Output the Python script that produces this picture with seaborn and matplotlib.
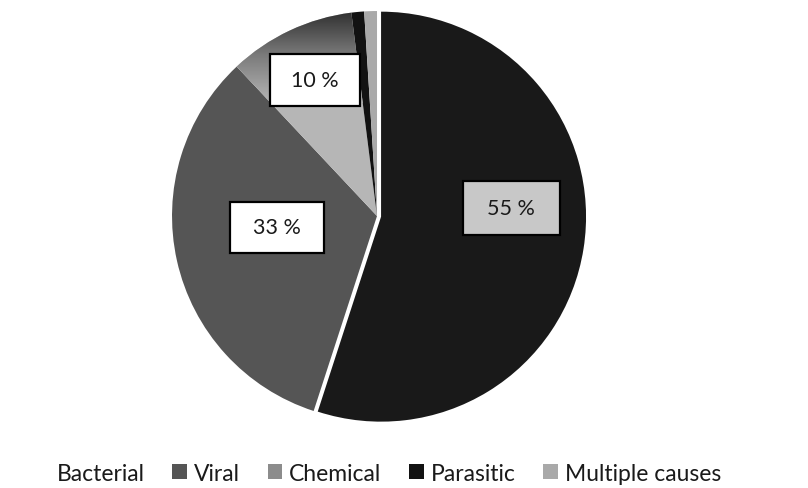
import numpy as np
import matplotlib
matplotlib.use("Agg")
import matplotlib.pyplot as plt
from matplotlib.patches import Rectangle, Patch
from matplotlib.colors import LinearSegmentedColormap
import seaborn as sns

categories = ["Bacterial", "Viral", "Chemical", "Parasitic", "Multiple causes"]
shares = [55, 33, 10, 1, 1]
label_texts = ["55 %", "33 %", "10 %"]

sns.set_theme(style="white")
plt.rcParams['font.family'] = ['Lato', 'DejaVu Sans']

colors = ["#191919", "#555555", "#b6b6b6", "#121212", "#a9a9a9"]

fig = plt.figure(figsize=(8.08, 4.89), dpi=100)
ax = fig.add_axes([0.2129, 0.137, 0.5074, 0.8384])
wedges, _ = ax.pie(shares, colors=colors, startangle=90, counterclock=False,
                   explode=[0.02, 0, 0, 0, 0], wedgeprops=dict(linewidth=0))
ax.set_xlim(-1.0, 1.0)
ax.set_ylim(-1.0, 1.0)
ax.set_aspect('equal')
ax.axis('off')

# vertical gradient on the chemical wedge (dark at rim top, light lower)
grad = np.linspace(0, 1, 256).reshape(-1, 1)
cmap = LinearSegmentedColormap.from_list("chem", ["#b6b6b6", "#7a7a7a", "#262626"])
im = ax.imshow(grad, cmap=cmap, origin='lower', extent=[-1.0, 0.05, 0.55, 1.02],
               aspect='auto', zorder=wedges[2].get_zorder() + 0.1)
im.set_clip_path(wedges[2])
ax.set_xlim(-1.0, 1.0)
ax.set_ylim(-1.0, 1.0)

# label boxes
box_specs = [
    (0.654, 0.039, 0.473, 0.263, "#c8c8c8"),
    (-0.488, -0.054, 0.463, 0.249, "white"),
    (-0.302, 0.663, 0.439, 0.254, "white"),
]
for (cx, cy, w, h, fc), txt in zip(box_specs, label_texts):
    ax.add_patch(Rectangle((cx - w / 2, cy - h / 2), w, h, facecolor=fc,
                           edgecolor="black", linewidth=1.6, zorder=5))
    ax.text(cx, cy, txt, ha='center', va='center', fontsize=15.5,
            color="#1a1a1a", zorder=6)

handles = []
for i, c in enumerate(colors):
    if i == 0:
        handles.append(Patch(facecolor='none', edgecolor='none'))
    elif i == 2:
        handles.append(Patch(facecolor="#8c8c8c", edgecolor='none'))
    else:
        handles.append(Patch(facecolor=c, edgecolor='none'))

fig.legend(handles, categories, loc='center', bbox_to_anchor=(0.468, 0.03),
           ncol=5, frameon=False, fontsize=16.5, handlelength=0.65,
           handleheight=0.65, handletextpad=0.3, columnspacing=1.2,
           labelcolor="#1a1a1a")

fig.savefig("out.png", dpi=100)
